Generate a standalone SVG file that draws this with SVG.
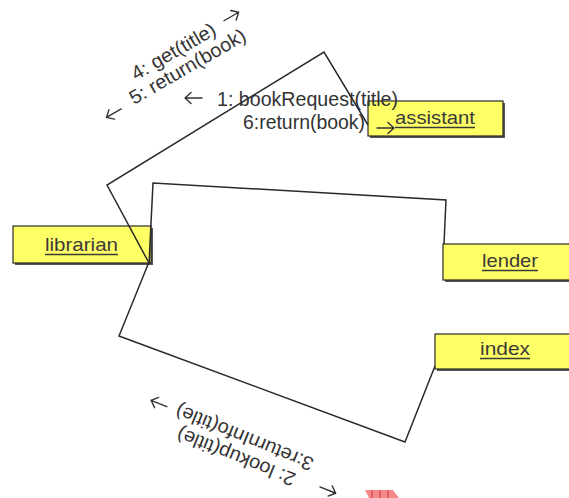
<svg xmlns="http://www.w3.org/2000/svg" width="569" height="498" viewBox="0 0 569 498">
<style>
.box{fill:#FFFF66;stroke:#2b2b2b;stroke-width:1.2}
.shadow{fill:#555}
.name{font-family:"Liberation Sans",Arial,sans-serif;font-size:19px;fill:#3a3a3a}
.ul{stroke:#3a3a3a;stroke-width:1.3}
.conn{fill:none;stroke:#2a2a2a;stroke-width:1.5}
.msg{font-family:"Liberation Sans",Arial,sans-serif;font-size:19.5px;fill:#333}
.arr{fill:none;stroke:#333;stroke-width:1.4;stroke-linecap:round;stroke-linejoin:round}
</style>
<defs>
<path id="aR" class="arr" d="M0,0 H17 M11,-5.5 L17,0 L11,5.5"/>
<path id="aL" class="arr" d="M17,0 H0 M6,-5.5 L0,0 L6,5.5"/>
</defs>
<rect width="569" height="498" fill="#fff"/>
<g id="librarian">
<rect class="shadow" x="15" y="228" width="138" height="37"/>
<rect class="box" x="13" y="226" width="138" height="37"/>
<text class="name" x="45" y="251" textLength="73" lengthAdjust="spacingAndGlyphs">librarian</text>
<line class="ul" x1="45" y1="254.5" x2="118" y2="254.5"/>
</g>
<g id="assistant">
<rect class="shadow" x="370" y="103" width="135" height="35"/>
<rect class="box" x="368" y="101" width="135" height="35"/>
<text class="name" x="395" y="124" textLength="80" lengthAdjust="spacingAndGlyphs">assistant</text>
<line class="ul" x1="395" y1="127.5" x2="475" y2="127.5"/>
</g>
<g id="lender">
<rect class="shadow" x="445" y="246" width="130" height="36"/>
<rect class="box" x="443" y="244" width="130" height="36"/>
<text class="name" x="482" y="267" textLength="56" lengthAdjust="spacingAndGlyphs">lender</text>
<line class="ul" x1="482" y1="270.5" x2="538" y2="270.5"/>
</g>
<g id="index">
<rect class="shadow" x="437" y="336" width="140" height="35"/>
<rect class="box" x="435" y="334" width="140" height="35"/>
<text class="name" x="480" y="355" textLength="50" lengthAdjust="spacingAndGlyphs">index</text>
<line class="ul" x1="480" y1="358.5" x2="530" y2="358.5"/>
</g>
<g id="connectors">
<polyline class="conn" points="149,263 107,185 324,52 368,125"/>
<polyline class="conn" points="149,264 153,183 446,200 444,244"/>
<polyline class="conn" points="149,262 119,336 405,442 435,366"/>
</g>
<g id="messages">
<text class="msg" x="217" y="106" textLength="181" lengthAdjust="spacingAndGlyphs">1: bookRequest(title)</text>
<use href="#aL" x="185" y="98"/>
<text class="msg" x="243" y="129" textLength="122" lengthAdjust="spacingAndGlyphs">6:return(book)</text>
<use href="#aR" x="377" y="128"/>
<g transform="translate(134,105) rotate(-30)">
<text class="msg" x="0" y="0" textLength="131" lengthAdjust="spacingAndGlyphs">5: return(book)</text>
<use href="#aL" x="-30" y="-3"/>
<text class="msg" x="14" y="-20" textLength="94" lengthAdjust="spacingAndGlyphs">4: get(title)</text>
<use href="#aR" x="120" y="-28"/>
</g>
<g transform="translate(315,459) rotate(202)">
<text class="msg" x="0" y="0" textLength="147" lengthAdjust="spacingAndGlyphs">3:returnInfo(title)</text>
<use href="#aR" x="157" y="-7"/>
<text class="msg" x="11" y="-21" textLength="126" lengthAdjust="spacingAndGlyphs">2: lookup(title)</text>
<use href="#aL" x="-32" y="-24"/>
</g>
</g>
<g id="mark">
<polygon points="365,490 393,490 399,498 369,498" fill="#f28a8a"/>
<path d="M372,490 V498 M380,490 V498 M388,490 V498" stroke="#e05050" stroke-width="1.5"/>
</g>
</svg>
